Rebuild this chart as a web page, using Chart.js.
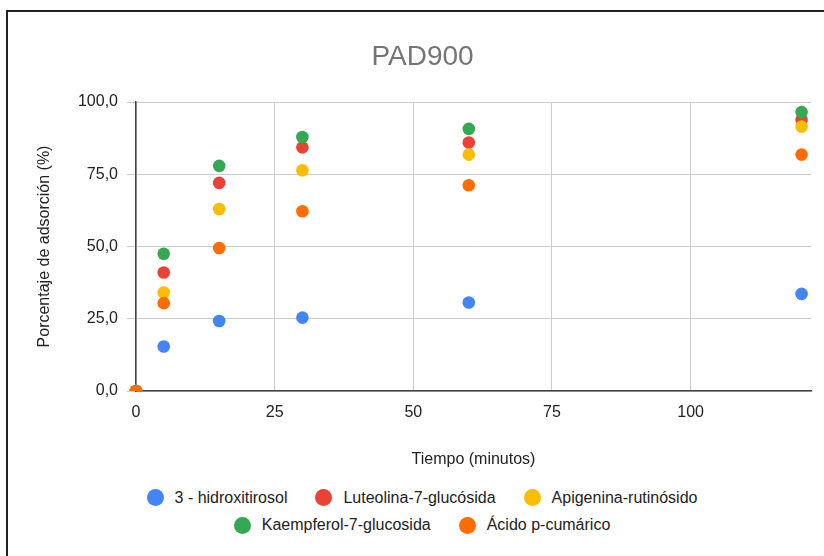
<!DOCTYPE html>
<html lang="es">
<head>
<meta charset="utf-8">
<title>PAD900</title>
<script src="https://cdn.jsdelivr.net/npm/chart.js@4.4.1/dist/chart.umd.min.js"></script>
<style>
  html, body { margin: 0; padding: 0; background: #fff; overflow: hidden; width: 824px; height: 556px; }
  #frame { position: absolute; left: 6px; top: 10px; width: 900px; height: 600px;
           border-left: 2px solid #222; border-top: 2px solid #222; }
  #chartBox { position: absolute; left: 0; top: 0; }
  #legend { position: absolute; left: 0; top: 484px; width: 844px;
            font-family: "Liberation Sans", Arial, sans-serif; font-size: 16px; color: #222; }
  .row { display: flex; justify-content: center; align-items: center; height: 27.5px; }
  .item { display: flex; align-items: center; margin: 0 14px; white-space: nowrap; }
  .dot { width: 17px; height: 17px; border-radius: 50%; margin-right: 11px; }
</style>
</head>
<body>
<div id="frame"></div>
<canvas id="chartBox" width="824" height="470"></canvas>
<div id="legend"></div>
<script>
// tiempo (minutos)
const tiempos = [0, 5, 15, 30, 60, 120];

// porcentaje de adsorción (%)
const hidroxitirosol = [0, 15.4, 24.2, 25.4, 30.6, 33.6];
const luteolina = [0, 41.0, 72.0, 84.3, 86.0, 93.9];
const apigenina = [0, 34.1, 63.0, 76.4, 81.8, 91.5];
const kaempferol = [0, 47.5, 77.9, 87.9, 90.7, 96.5];
const cumarico = [0, 30.4, 49.5, 62.2, 71.2, 81.8];

const nombres = ["3 - hidroxitirosol", "Luteolina-7-glucósida", "Apigenina-rutinósido", "Kaempferol-7-glucosida", "Ácido p-cumárico"];
const colores = ["#4285F4", "#EA4335", "#FBBC04", "#34A853", "#FF6D01"];
const series = [hidroxitirosol, luteolina, apigenina, kaempferol, cumarico];

document.addEventListener("DOMContentLoaded", () => {
  const font = "'Liberation Sans', Arial, sans-serif";

  const datasets = series.map((vals, i) => ({
    label: nombres[i],
    data: tiempos.map((t, j) => ({ x: t, y: vals[j] })),
    backgroundColor: colores[i],
    borderColor: colores[i],
    borderWidth: 0,
    pointRadius: 6.3,
    pointHoverRadius: 6.3,
    order: series.length - 1 - i, // later series drawn on top
    clip: { left: 10, top: 10, right: 10, bottom: 0 }
  }));

  new Chart(document.getElementById("chartBox"), {
    type: "scatter",
    data: { datasets },
    options: {
      responsive: false,
      animation: false,
      layout: { padding: { left: 34, right: 13, top: 0, bottom: 0 } },
      plugins: {
        legend: { display: false },
        tooltip: { enabled: false },
        title: {
          display: true,
          text: "PAD900",
          color: "#757575",
          font: { family: font, size: 28, weight: "normal" },
          padding: { top: 40, bottom: 28.4 }
        }
      },
      scales: {
        x: {
          type: "linear",
          min: 0,
          max: 121.7,
          ticks: {
            stepSize: 25,
            includeBounds: false,
            color: "#222",
            padding: 12,
            maxRotation: 0,
            font: { family: font, size: 16 }
          },
          grid: { color: "#ccc", drawTicks: false },
          border: { color: "#444", width: 1.5 },
          title: {
            display: true,
            text: "Tiempo (minutos)",
            color: "#222",
            font: { family: font, size: 16 },
            padding: { top: 0, bottom: 0.5 }
          },
          afterFit: (scale) => { scale.height = 79; }
        },
        y: {
          min: 0,
          max: 100,
          ticks: {
            stepSize: 25,
            color: "#222",
            padding: 9,
            font: { family: font, size: 16 },
            callback: (v) => v.toFixed(1).replace(".", ",")
          },
          grid: { color: "#ccc", tickLength: 9 },
          border: { color: "#444", width: 1.5 },
          title: {
            display: true,
            text: "Porcentaje de adsorción (%)",
            color: "#222",
            font: { family: font, size: 16 },
            padding: { top: 1.4, bottom: 0 }
          },
          afterFit: (scale) => { scale.width = 102; }
        }
      }
    }
  });

  // legend in two rows, like the original
  const legendDiv = document.getElementById("legend");
  [[0, 1, 2], [3, 4]].forEach((rowIdx) => {
    const row = document.createElement("div");
    row.className = "row";
    rowIdx.forEach((i) => {
      const item = document.createElement("div");
      item.className = "item";
      item.innerHTML = `<span class="dot" style="background:${colores[i]}"></span><span>${nombres[i]}</span>`;
      row.appendChild(item);
    });
    legendDiv.appendChild(row);
  });
});
</script>
</body>
</html>
